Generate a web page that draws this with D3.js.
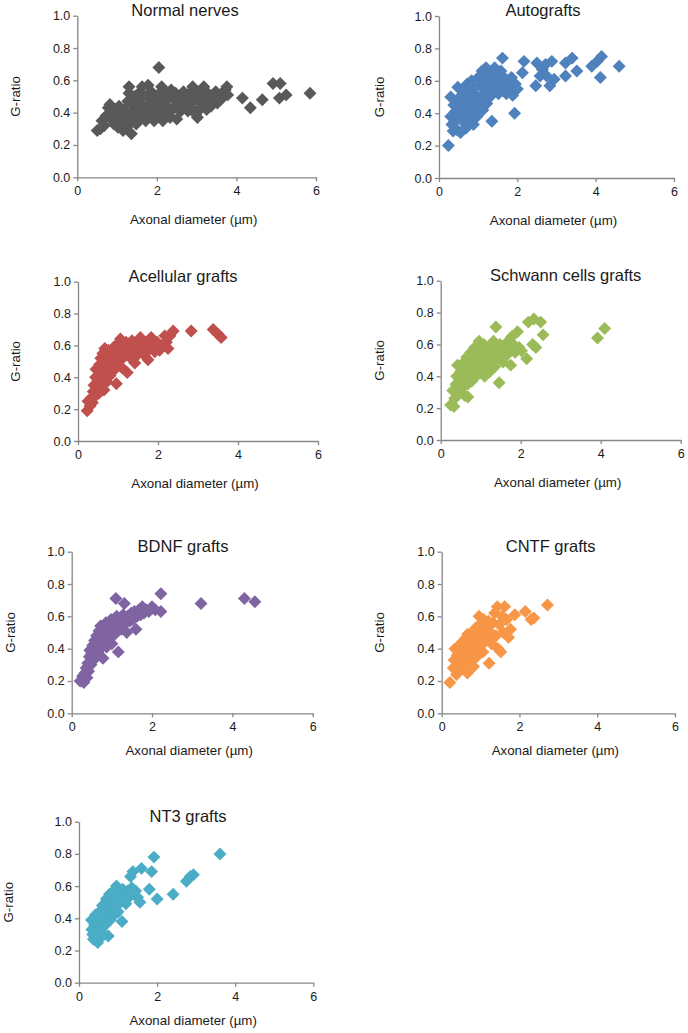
<!DOCTYPE html>
<html>
<head>
<meta charset="utf-8">
<script src="https://cdn.jsdelivr.net/npm/d3@7"></script>
<style>
  html, body { margin: 0; padding: 0; background: #fff; }
  svg { display: block; font-family: "Liberation Sans", Arial, sans-serif; }
</style>
</head>
<body>
<svg id="chart" width="688" height="1033"></svg>
<script>
// ---------------- DATA ----------------
const xTicks = [0, 2, 4, 6];
const yTicks = [0.0, 0.2, 0.4, 0.6, 0.8, 1.0];
const xLabel = "Axonal diameter (µm)";
const yLabel = "G-ratio";

const panelTitles = ["Normal nerves", "Autografts", "Acellular grafts", "Schwann cells grafts", "BDNF grafts", "CNTF grafts", "NT3 grafts"];
const panelColors = ["#595959", "#4F81BD", "#C0504D", "#9BBB59", "#8064A2", "#F79646", "#4BACC6"];

const normalNerves = [[0.50,0.29],[0.58,0.30],[0.62,0.35],[0.68,0.32],[0.72,0.38],[0.78,0.43],[0.82,0.45],[0.85,0.36],[0.88,0.40],[0.92,0.33],[0.96,0.42],[1.00,0.37],[1.02,0.31],[1.05,0.44],[1.08,0.39],[1.12,0.34],[1.15,0.29],[1.18,0.42],[1.20,0.36],[1.24,0.31],[1.27,0.47],[1.30,0.52],[1.30,0.56],[1.33,0.40],[1.36,0.27],[1.38,0.35],[1.40,0.45],[1.43,0.50],[1.46,0.38],[1.48,0.33],[1.52,0.42],[1.55,0.48],[1.58,0.53],[1.60,0.37],[1.63,0.56],[1.66,0.44],[1.70,0.40],[1.72,0.35],[1.75,0.50],[1.78,0.57],[1.80,0.45],[1.83,0.39],[1.86,0.53],[1.90,0.42],[1.93,0.35],[1.96,0.48],[2.00,0.38],[2.02,0.44],[2.05,0.68],[2.07,0.52],[2.12,0.56],[2.12,0.41],[2.15,0.35],[2.18,0.47],[2.20,0.53],[2.23,0.39],[2.26,0.44],[2.30,0.50],[2.33,0.37],[2.36,0.54],[2.40,0.42],[2.43,0.48],[2.47,0.52],[2.50,0.36],[2.53,0.45],[2.56,0.50],[2.60,0.41],[2.63,0.47],[2.67,0.53],[2.70,0.44],[2.74,0.49],[2.78,0.41],[2.82,0.52],[2.86,0.46],[2.90,0.56],[2.92,0.42],[2.95,0.50],[2.98,0.39],[3.02,0.37],[3.05,0.47],[3.08,0.53],[3.12,0.43],[3.15,0.50],[3.18,0.56],[3.22,0.46],[3.25,0.42],[3.28,0.52],[3.32,0.47],[3.36,0.44],[3.40,0.51],[3.44,0.47],[3.48,0.53],[3.52,0.46],[3.56,0.50],[3.60,0.48],[3.64,0.52],[3.68,0.50],[3.72,0.54],[3.76,0.56],[3.78,0.51],[4.15,0.49],[4.35,0.43],[4.65,0.48],[4.92,0.58],[5.10,0.58],[5.08,0.49],[5.25,0.51],[5.85,0.52]];

const autografts = [[0.24,0.20],[0.30,0.50],[0.30,0.38],[0.33,0.33],[0.36,0.29],[0.38,0.45],[0.40,0.35],[0.42,0.41],[0.45,0.30],[0.47,0.48],[0.48,0.56],[0.50,0.38],[0.52,0.43],[0.55,0.28],[0.57,0.51],[0.60,0.35],[0.62,0.46],[0.65,0.40],[0.67,0.55],[0.70,0.31],[0.72,0.58],[0.74,0.49],[0.76,0.37],[0.78,0.44],[0.80,0.53],[0.83,0.60],[0.85,0.41],[0.88,0.33],[0.90,0.56],[0.92,0.47],[0.95,0.51],[0.97,0.38],[1.00,0.62],[1.02,0.44],[1.05,0.57],[1.08,0.49],[1.10,0.66],[1.12,0.42],[1.15,0.60],[1.18,0.53],[1.20,0.68],[1.22,0.46],[1.25,0.63],[1.28,0.56],[1.30,0.50],[1.32,0.65],[1.35,0.35],[1.37,0.59],[1.40,0.54],[1.42,0.68],[1.45,0.62],[1.48,0.57],[1.50,0.65],[1.52,0.52],[1.55,0.60],[1.58,0.66],[1.62,0.74],[1.63,0.56],[1.66,0.62],[1.70,0.58],[1.72,0.52],[1.75,0.60],[1.80,0.55],[1.85,0.62],[1.88,0.51],[1.93,0.40],[1.95,0.58],[2.00,0.55],[2.13,0.65],[2.17,0.72],[2.47,0.57],[2.50,0.71],[2.58,0.63],[2.64,0.67],[2.72,0.70],[2.75,0.63],[2.83,0.57],[2.88,0.72],[2.94,0.61],[3.23,0.71],[3.23,0.63],[3.40,0.74],[3.52,0.66],[3.90,0.69],[4.04,0.72],[4.15,0.75],[4.12,0.62],[4.60,0.69]];

const acellularGrafts = [[0.23,0.19],[0.25,0.25],[0.30,0.22],[0.33,0.27],[0.36,0.24],[0.38,0.31],[0.40,0.35],[0.42,0.28],[0.44,0.40],[0.45,0.45],[0.47,0.33],[0.50,0.38],[0.52,0.30],[0.54,0.48],[0.55,0.42],[0.57,0.52],[0.58,0.35],[0.60,0.45],[0.62,0.55],[0.63,0.40],[0.65,0.32],[0.67,0.58],[0.68,0.48],[0.70,0.43],[0.72,0.37],[0.74,0.53],[0.76,0.57],[0.78,0.46],[0.80,0.41],[0.83,0.50],[0.85,0.55],[0.88,0.44],[0.90,0.59],[0.93,0.48],[0.96,0.36],[0.98,0.53],[1.00,0.61],[1.03,0.50],[1.06,0.64],[1.08,0.57],[1.10,0.46],[1.13,0.60],[1.16,0.53],[1.20,0.62],[1.23,0.43],[1.25,0.56],[1.28,0.60],[1.32,0.52],[1.35,0.63],[1.38,0.57],[1.42,0.49],[1.45,0.60],[1.48,0.54],[1.52,0.62],[1.56,0.65],[1.58,0.57],[1.62,0.60],[1.66,0.54],[1.70,0.62],[1.75,0.51],[1.78,0.58],[1.83,0.65],[1.86,0.60],[1.92,0.56],[1.98,0.62],[2.04,0.57],[2.10,0.60],[2.17,0.66],[2.21,0.62],[2.25,0.58],[2.30,0.66],[2.38,0.69],[2.83,0.69],[3.38,0.70],[3.50,0.67],[3.58,0.65]];

const schwannGrafts = [[0.25,0.22],[0.33,0.21],[0.30,0.31],[0.35,0.26],[0.38,0.35],[0.40,0.40],[0.42,0.47],[0.45,0.30],[0.48,0.37],[0.50,0.43],[0.53,0.33],[0.55,0.48],[0.58,0.39],[0.60,0.28],[0.62,0.44],[0.65,0.52],[0.67,0.35],[0.68,0.27],[0.70,0.47],[0.73,0.41],[0.75,0.55],[0.78,0.37],[0.80,0.50],[0.83,0.44],[0.85,0.58],[0.88,0.40],[0.90,0.53],[0.93,0.47],[0.96,0.62],[0.98,0.42],[1.00,0.56],[1.03,0.50],[1.06,0.45],[1.08,0.60],[1.10,0.40],[1.13,0.53],[1.16,0.48],[1.20,0.58],[1.23,0.43],[1.26,0.55],[1.30,0.50],[1.32,0.62],[1.35,0.46],[1.38,0.71],[1.40,0.57],[1.43,0.52],[1.46,0.36],[1.48,0.60],[1.52,0.55],[1.56,0.49],[1.60,0.58],[1.64,0.53],[1.68,0.62],[1.72,0.57],[1.75,0.47],[1.78,0.65],[1.82,0.60],[1.86,0.55],[1.92,0.68],[1.96,0.58],[2.02,0.56],[2.15,0.51],[2.19,0.74],[2.30,0.60],[2.33,0.76],[2.38,0.58],[2.50,0.74],[2.56,0.66],[3.92,0.64],[4.10,0.70]];

const bdnfGrafts = [[0.21,0.20],[0.30,0.19],[0.27,0.23],[0.33,0.25],[0.36,0.28],[0.38,0.22],[0.40,0.31],[0.42,0.26],[0.44,0.35],[0.45,0.39],[0.48,0.30],[0.50,0.37],[0.52,0.42],[0.55,0.33],[0.57,0.45],[0.58,0.40],[0.60,0.36],[0.62,0.48],[0.64,0.43],[0.66,0.38],[0.68,0.51],[0.70,0.46],[0.72,0.54],[0.74,0.41],[0.76,0.49],[0.78,0.34],[0.80,0.52],[0.82,0.45],[0.85,0.56],[0.87,0.41],[0.90,0.50],[0.92,0.54],[0.95,0.47],[0.98,0.58],[1.00,0.43],[1.02,0.52],[1.05,0.56],[1.08,0.49],[1.10,0.71],[1.12,0.60],[1.15,0.54],[1.16,0.38],[1.20,0.58],[1.24,0.52],[1.28,0.61],[1.31,0.68],[1.33,0.56],[1.37,0.50],[1.40,0.60],[1.44,0.57],[1.48,0.62],[1.52,0.58],[1.56,0.63],[1.60,0.52],[1.63,0.60],[1.67,0.64],[1.72,0.61],[1.76,0.66],[1.80,0.62],[1.86,0.64],[1.92,0.63],[2.00,0.66],[2.08,0.64],[2.22,0.74],[2.22,0.63],[3.22,0.68],[4.30,0.71],[4.56,0.69]];

const cntfGrafts = [[0.21,0.19],[0.30,0.28],[0.32,0.33],[0.34,0.40],[0.38,0.24],[0.40,0.36],[0.42,0.30],[0.45,0.41],[0.48,0.27],[0.50,0.34],[0.52,0.44],[0.55,0.38],[0.58,0.30],[0.60,0.46],[0.62,0.41],[0.64,0.35],[0.66,0.25],[0.67,0.49],[0.70,0.43],[0.72,0.32],[0.75,0.38],[0.78,0.50],[0.80,0.45],[0.82,0.29],[0.85,0.40],[0.88,0.53],[0.90,0.35],[0.93,0.47],[0.96,0.60],[0.98,0.42],[1.00,0.55],[1.03,0.49],[1.06,0.38],[1.08,0.58],[1.10,0.44],[1.13,0.52],[1.16,0.47],[1.20,0.57],[1.22,0.31],[1.25,0.50],[1.28,0.43],[1.32,0.56],[1.36,0.62],[1.40,0.48],[1.43,0.66],[1.45,0.40],[1.48,0.55],[1.52,0.38],[1.55,0.60],[1.58,0.50],[1.62,0.66],[1.67,0.58],[1.72,0.47],[1.77,0.52],[1.88,0.61],[2.15,0.63],[2.30,0.58],[2.37,0.59],[2.72,0.67]];

const nt3Grafts = [[0.32,0.39],[0.33,0.33],[0.35,0.30],[0.37,0.27],[0.40,0.36],[0.42,0.42],[0.45,0.31],[0.48,0.25],[0.50,0.38],[0.52,0.44],[0.55,0.28],[0.57,0.34],[0.60,0.48],[0.62,0.40],[0.64,0.30],[0.66,0.45],[0.68,0.36],[0.70,0.52],[0.72,0.42],[0.75,0.29],[0.76,0.48],[0.78,0.55],[0.80,0.39],[0.83,0.50],[0.85,0.45],[0.88,0.57],[0.90,0.42],[0.93,0.53],[0.96,0.60],[0.98,0.48],[1.00,0.44],[1.03,0.56],[1.06,0.51],[1.10,0.38],[1.12,0.58],[1.15,0.53],[1.20,0.49],[1.24,0.57],[1.28,0.53],[1.32,0.66],[1.35,0.59],[1.38,0.69],[1.40,0.55],[1.45,0.57],[1.50,0.53],[1.56,0.50],[1.60,0.71],[1.80,0.58],[1.86,0.69],[1.92,0.78],[2.00,0.52],[2.41,0.55],[2.75,0.63],[2.85,0.66],[2.93,0.67],[3.61,0.80]];

const panelData = [normalNerves, autografts, acellularGrafts, schwannGrafts, bdnfGrafts, cntfGrafts, nt3Grafts];

// ---------------- LAYOUT (positions, not data) ----------------
const layout = [
  { l: 77.3,  r: 316,   t: 15.7,  b: 177.3, titleX: 185,   yLabX: 15,  xLabOff: 47 },
  { l: 439,   r: 674,   t: 16,    b: 178,   titleX: 543,   yLabX: 379, xLabOff: 47 },
  { l: 78,    r: 318,   t: 281.7, b: 441,   titleX: 183,   yLabX: 15,  xLabOff: 47 },
  { l: 440.7, r: 680.7, t: 280.7, b: 440,   titleX: 565.7, yLabX: 379, xLabOff: 47 },
  { l: 71.7,  r: 312.7, t: 551.7, b: 713.3, titleX: 183,   yLabX: 10,  xLabOff: 42 },
  { l: 441.7, r: 675,   t: 551.7, b: 713.3, titleX: 550.7, yLabX: 379, xLabOff: 42 },
  { l: 79,    r: 313.3, t: 821.7, b: 982.7, titleX: 188,   yLabX: 8.5, xLabOff: 42 }
];

const axisColor = "#868686";
const textColor = "#1a1a1a";

const svg = d3.select("#chart");
const diamond = d3.symbol().type(d3.symbolSquare).size(84)();

panelTitles.forEach((title, i) => {
  const L = layout[i];
  const x = d3.scaleLinear().domain([0, 6]).range([L.l, L.r]);
  const y = d3.scaleLinear().domain([0, 1]).range([L.b, L.t]);
  const g = svg.append("g").attr("class", "panel");

  // points
  g.append("g").selectAll("path")
    .data(panelData[i])
    .join("path")
    .attr("d", diamond)
    .attr("transform", d => `translate(${x(d[0])},${y(d[1])}) rotate(45)`)
    .attr("fill", panelColors[i]);

  // x axis
  const xa = g.append("g")
    .attr("transform", `translate(0,${L.b})`)
    .call(d3.axisBottom(x).tickValues(xTicks).tickFormat(d3.format("d")).tickSizeOuter(0).tickSizeInner(4).tickPadding(5));
  // y axis
  const ya = g.append("g")
    .attr("transform", `translate(${L.l},0)`)
    .call(d3.axisLeft(y).tickValues(yTicks).tickFormat(d3.format(".1f")).tickSizeOuter(0).tickSizeInner(4).tickPadding(3));

  [xa, ya].forEach(a => {
    a.select(".domain").attr("stroke", axisColor).attr("stroke-width", 1.3);
    a.selectAll(".tick line").attr("stroke", axisColor).attr("stroke-width", 1.3);
    a.selectAll(".tick text").attr("fill", textColor).attr("font-size", 12.5)
      .attr("font-family", "'Liberation Sans', Arial, sans-serif");
  });

  // title
  g.append("text")
    .attr("x", L.titleX).attr("y", L.t)
    .attr("text-anchor", "middle")
    .attr("font-size", 16.5)
    .attr("fill", textColor)
    .text(title);

  // x label
  g.append("text")
    .attr("x", (L.l + L.r) / 2 - 3).attr("y", L.b + L.xLabOff)
    .attr("text-anchor", "middle")
    .attr("font-size", 13.3)
    .attr("fill", textColor)
    .text(xLabel);

  // y label
  g.append("text")
    .attr("transform", `translate(${L.yLabX},${(L.t + L.b) / 2}) rotate(-90)`)
    .attr("text-anchor", "middle")
    .attr("dominant-baseline", "central")
    .attr("font-size", 13.3)
    .attr("fill", textColor)
    .text(yLabel);
});
</script>
</body>
</html>
